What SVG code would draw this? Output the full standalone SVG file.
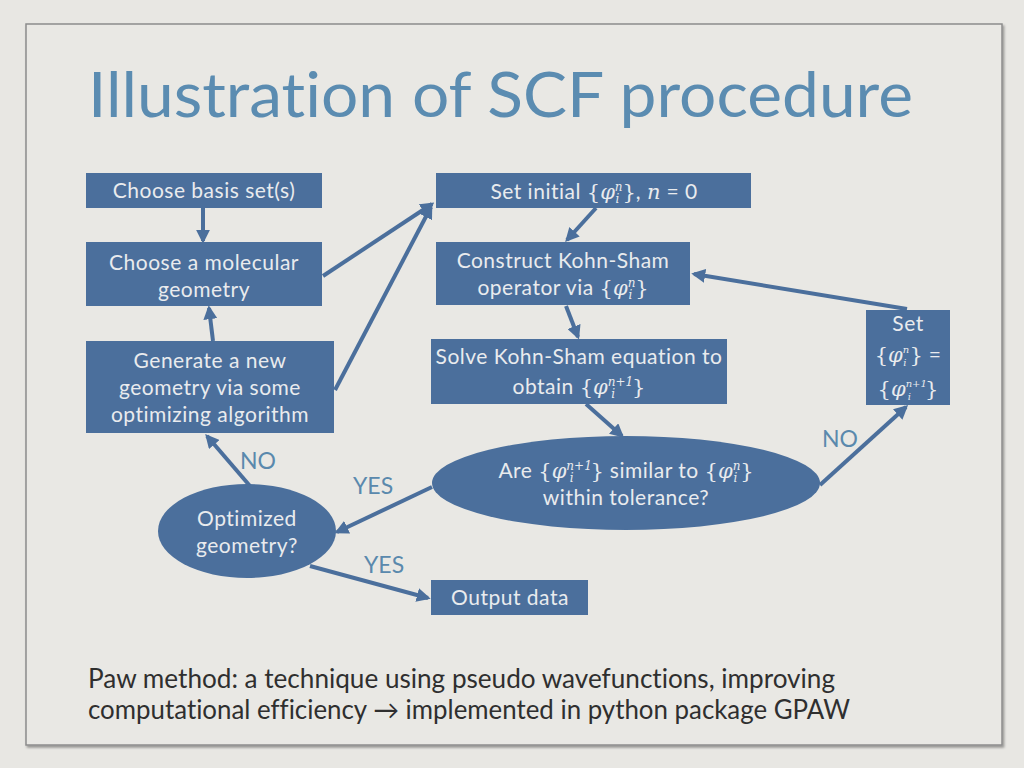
<svg xmlns="http://www.w3.org/2000/svg" width="1024" height="768" viewBox="0 0 1024 768">
<defs>
<style>
.box{fill:#4b6f9c;}
.bt{font-family:Lato,"Open Sans","Liberation Sans",sans-serif;font-size:21px;letter-spacing:0.5px;fill:#e9ebee;text-anchor:middle;font-variant-ligatures:none;}
.m{font-family:"DejaVu Serif","Liberation Serif",serif;font-style:italic;letter-spacing:0;}
.br{font-family:"DejaVu Serif","Liberation Serif",serif;letter-spacing:0;}
.lbl{font-family:Lato,"Open Sans","Liberation Sans",sans-serif;font-size:23px;fill:#5a89ad;}
.c{stroke:#4b6f9c;stroke-width:4;fill:none;marker-end:url(#ah);}
</style>
<marker id="ah" viewBox="0 0 10 10" refX="8" refY="5" markerWidth="14" markerHeight="14" markerUnits="userSpaceOnUse" orient="auto">
<path d="M0,0 L10,5 L0,10 z" fill="#4b6f9c"/>
</marker>
<filter id="sh" x="-5%" y="-5%" width="110%" height="110%">
<feDropShadow dx="1.5" dy="2" stdDeviation="1" flood-color="#000" flood-opacity="0.35"/>
</filter>
</defs>
<rect width="1024" height="768" fill="#e8e7e3"/>
<rect x="26" y="24" width="976" height="721" fill="#e9e8e4" stroke="#8c8c8c" stroke-width="1.5" filter="url(#sh)"/>
<text x="88" y="117" font-family="Lato,'Open Sans','Liberation Sans',sans-serif" font-size="62" fill="#5b8cb1" textLength="825" lengthAdjust="spacingAndGlyphs" style="font-variant-ligatures:none">Illustration of SCF procedure</text>

<g id="connectors">
<line class="c" x1="203" y1="208" x2="203" y2="241"/>
<line class="c" x1="213" y1="341" x2="209" y2="308"/>
<line class="c" x1="323" y1="276" x2="432" y2="204"/>
<line class="c" x1="335" y1="390" x2="431" y2="207"/>
<line class="c" x1="596" y1="208" x2="567" y2="240"/>
<line class="c" x1="566" y1="306" x2="578" y2="337"/>
<line class="c" x1="586" y1="404" x2="622" y2="436"/>
<line class="c" x1="820" y1="485" x2="906" y2="407"/>
<line class="c" x1="907" y1="309" x2="694" y2="274"/>
<line class="c" x1="432" y1="487" x2="337" y2="532"/>
<line class="c" x1="310" y1="566" x2="428" y2="598"/>
<line class="c" x1="250" y1="486" x2="207" y2="436"/>
</g>

<g id="basis">
<rect class="box" x="86" y="173" width="236" height="35"/>
<text class="bt" x="204" y="198">Choose basis set(s)</text>
</g>
<g id="molecular">
<rect class="box" x="86" y="242" width="236" height="64"/>
<text class="bt" x="204" y="270">Choose a molecular</text>
<text class="bt" x="204" y="297">geometry</text>
</g>
<g id="generate">
<rect class="box" x="86" y="341" width="248" height="92"/>
<text class="bt" x="210" y="368">Generate a new</text>
<text class="bt" x="210" y="395">geometry via some</text>
<text class="bt" x="210" y="422">optimizing algorithm</text>
</g>
<g id="setinit">
<rect class="box" x="436" y="173" width="315" height="35"/>
<text class="bt" x="594" y="199">Set initial <tspan class="br">{</tspan><tspan class="m">φ</tspan><tspan class="m" font-size="12" dy="-8">n</tspan><tspan class="m" font-size="12" dx="-7" dy="12">i</tspan><tspan class="br" dx="3" dy="-4">}</tspan>,  <tspan class="m">n</tspan> = 0</text>
</g>
<g id="construct">
<rect class="box" x="436" y="242" width="254" height="63"/>
<text class="bt" x="563" y="268">Construct Kohn-Sham</text>
<text class="bt" x="563" y="295">operator via <tspan class="br">{</tspan><tspan class="m">φ</tspan><tspan class="m" font-size="12" dy="-8">n</tspan><tspan class="m" font-size="12" dx="-7" dy="12">i</tspan><tspan class="br" dx="3" dy="-4">}</tspan></text>
</g>
<g id="solve">
<rect class="box" x="431" y="339" width="296" height="65"/>
<text class="bt" x="579" y="364">Solve Kohn-Sham equation to</text>
<text class="bt" x="579" y="394">obtain <tspan class="br">{</tspan><tspan class="m">φ</tspan><tspan class="m" font-size="12" dy="-8">n+1</tspan><tspan class="m" font-size="12" dx="-22" dy="12">i</tspan><tspan class="br" dx="17" dy="-4">}</tspan></text>
</g>
<g id="setbox">
<rect class="box" x="866" y="310" width="84" height="95"/>
<text class="bt" x="908" y="331" font-size="19">Set</text>
<text class="bt" x="908" y="362" font-size="17"><tspan class="br">{</tspan><tspan class="m">φ</tspan><tspan class="m" font-size="10" dy="-9">n</tspan><tspan class="m" font-size="10" dx="-6" dy="13">i</tspan><tspan class="br" dx="3" dy="-4">}</tspan> =</text>
<text class="bt" x="908" y="396" font-size="17"><tspan class="br">{</tspan><tspan class="m">φ</tspan><tspan class="m" font-size="10" dy="-9">n+1</tspan><tspan class="m" font-size="10" dx="-19" dy="13">i</tspan><tspan class="br" dx="14" dy="-4">}</tspan></text>
</g>
<g id="similar">
<ellipse class="box" cx="626" cy="483" rx="194" ry="47"/>
<text class="bt" x="626" y="478">Are <tspan class="br">{</tspan><tspan class="m">φ</tspan><tspan class="m" font-size="12" dy="-8">n+1</tspan><tspan class="m" font-size="12" dx="-22" dy="12">i</tspan><tspan class="br" dx="17" dy="-4">}</tspan> similar to <tspan class="br">{</tspan><tspan class="m">φ</tspan><tspan class="m" font-size="12" dy="-8">n</tspan><tspan class="m" font-size="12" dx="-7" dy="12">i</tspan><tspan class="br" dx="3" dy="-4">}</tspan></text>
<text class="bt" x="626" y="505">within tolerance?</text>
</g>
<g id="optimized">
<ellipse class="box" cx="247" cy="531" rx="89" ry="47"/>
<text class="bt" x="247" y="526">Optimized</text>
<text class="bt" x="247" y="553">geometry?</text>
</g>
<g id="output">
<rect class="box" x="431" y="580" width="157" height="35"/>
<text class="bt" x="510" y="605">Output data</text>
</g>

<g id="labels">
<text class="lbl" x="240" y="469">NO</text>
<text class="lbl" x="353" y="494">YES</text>
<text class="lbl" x="364" y="573">YES</text>
<text class="lbl" x="822" y="447">NO</text>
</g>

<g id="footer" font-family="Lato,'Open Sans','Liberation Sans',sans-serif" font-size="26" fill="#2f2f2f" style="font-variant-ligatures:none">
<text x="88" y="688" textLength="747" lengthAdjust="spacingAndGlyphs">Paw method: a technique using pseudo wavefunctions, improving</text>
<text x="88" y="719" textLength="762" lengthAdjust="spacingAndGlyphs">computational efficiency → implemented in python package GPAW</text>
</g>
</svg>
